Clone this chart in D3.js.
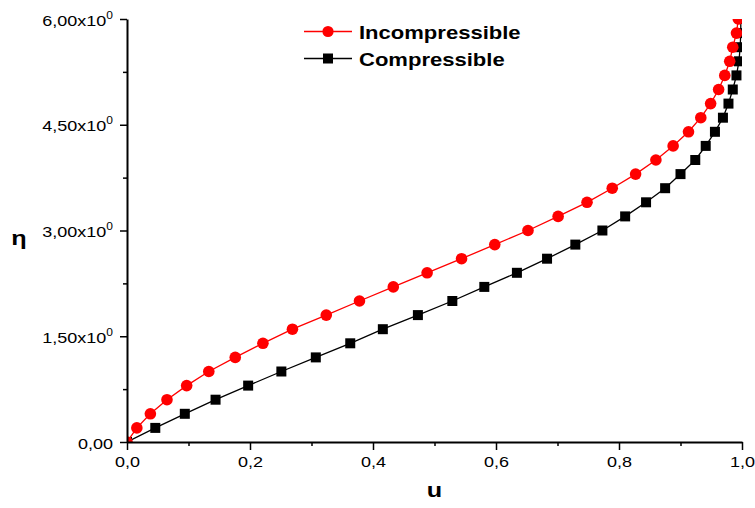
<!DOCTYPE html>
<meta charset="utf-8">
<style>
  body { margin: 0; background: #fff; }
  text { font-family: "Liberation Sans", Arial, sans-serif; }
</style>
<body>
<div id="chart"></div>
<script src="https://d3js.org/d3.v7.min.js"></script>
<script>

// eta grid (y values) shared by both curves
var eta = [0, 0.2, 0.4, 0.6, 0.8, 1.0, 1.2, 1.4, 1.6, 1.8, 2.0, 2.2, 2.4, 2.6, 2.8, 3.0,
           3.2, 3.4, 3.6, 3.8, 4.0, 4.2, 4.4, 4.6, 4.8, 5.0, 5.2, 5.4, 5.6, 5.8, 6.0];

// u values
var uIncomp = [0, 0.016, 0.038, 0.065, 0.097, 0.133, 0.176, 0.221, 0.269, 0.324, 0.378,
               0.433, 0.488, 0.544, 0.598, 0.652, 0.701, 0.748, 0.789, 0.827, 0.860,
               0.888, 0.913, 0.933, 0.949, 0.962, 0.972, 0.980, 0.985, 0.991, 0.994];
var uComp   = [0, 0.046, 0.094, 0.144, 0.197, 0.251, 0.307, 0.363, 0.416, 0.473, 0.529,
               0.581, 0.634, 0.683, 0.729, 0.773, 0.810, 0.844, 0.875, 0.900, 0.924,
               0.941, 0.956, 0.969, 0.978, 0.985, 0.991, 0.995, 0.997, 0.998, 0.998];

var seriesNames = ["Incompressible", "Compressible"];

var xTicks = [0, 0.2, 0.4, 0.6, 0.8, 1.0];
var xTickLabels = ["0,0", "0,2", "0,4", "0,6", "0,8", "1,0"];
var xMinor = [0.1, 0.3, 0.5, 0.7, 0.9];
var yTicks = [0, 1.5, 3.0, 4.5, 6.0];
var yTickLabels = ["0,00", "1,50x10", "3,00x10", "4,50x10", "6,00x10"];
var yTickSup = ["", "0", "0", "0", "0"];
var yMinor = [0.75, 2.25, 3.75, 5.25];

// the picture is a bit wider than tall, so texts are stretched
var stretch = 1.2;

var margin = {top: 19, left: 127},
    width = 615,
    height = 423;

var svg = d3.select("#chart")
  .append("svg")
    .attr("width", 755)
    .attr("height", 508);

svg.append("defs").append("clipPath")
    .attr("id", "plotclip")
  .append("rect")
    .attr("x", 0).attr("y", 0)
    .attr("width", width).attr("height", height);

var g = svg.append("g")
    .attr("transform", "translate(" + margin.left + "," + margin.top + ")");

var x = d3.scaleLinear().domain([0, 1]).range([0, width]);
var y = d3.scaleLinear().domain([0, 6]).range([height, 0]);

// lines and markers (clipped to the plot area)
var plot = g.append("g").attr("clip-path", "url(#plotclip)");

var line = d3.line()
  .x(function(d) { return x(d[0]); })
  .y(function(d) { return y(d[1]); });

var compData = uComp.map(function(u, i) { return [u, eta[i]]; });
var incData = uIncomp.map(function(u, i) { return [u, eta[i]]; });

plot.append("path")
  .datum(compData)
  .attr("fill", "none")
  .attr("stroke", "#000")
  .attr("stroke-width", 1.3)
  .attr("d", line);

plot.selectAll(".sq")
  .data(compData)
  .enter()
  .append("rect")
    .attr("x", function(d) { return x(d[0]) - 5; })
    .attr("y", function(d) { return y(d[1]) - 5; })
    .attr("width", 10)
    .attr("height", 10)
    .attr("fill", "#000");

plot.append("path")
  .datum(incData)
  .attr("fill", "none")
  .attr("stroke", "#ff0000")
  .attr("stroke-width", 1.3)
  .attr("d", line);

plot.selectAll(".dot")
  .data(incData)
  .enter()
  .append("circle")
    .attr("cx", function(d) { return x(d[0]); })
    .attr("cy", function(d) { return y(d[1]); })
    .attr("r", 5.8)
    .attr("fill", "#ff0000");

// X axis
var xAxis = g.append("g")
  .attr("transform", "translate(0," + height + ")")
  .call(d3.axisBottom(x).tickValues(xTicks).tickSize(8).tickSizeOuter(0).tickPadding(6)
        .tickFormat(function(d, i) { return xTickLabels[i]; }));
xAxis.append("g")
  .call(d3.axisBottom(x).tickValues(xMinor).tickSize(4).tickFormat(""))
  .select(".domain").remove();

// Y axis
var yAxis = g.append("g")
  .call(d3.axisLeft(y).tickValues(yTicks).tickSize(7).tickSizeOuter(0).tickPadding(5)
        .tickFormat(""));
yAxis.append("g")
  .call(d3.axisLeft(y).tickValues(yMinor).tickSize(4).tickFormat(""))
  .select(".domain").remove();

g.selectAll(".domain").attr("stroke-width", 2).attr("stroke", "#000");
g.selectAll(".tick line").attr("stroke-width", 1.5).attr("stroke", "#000");

xAxis.selectAll(".tick text")
  .attr("font-size", 15)
  .attr("fill", "#000")
  .attr("transform", "scale(" + stretch + ",1)");

// y tick labels with superscript exponent
yAxis.selectAll(".tick")
  .filter(function(d) { return yTicks.indexOf(d) >= 0; })
  .each(function(d) {
    var i = yTicks.indexOf(d);
    var t = d3.select(this).append("text")
      .attr("text-anchor", "end")
      .attr("font-size", 15)
      .attr("fill", "#000")
      .attr("transform", "translate(-14,6) scale(" + stretch + ",1)");
    t.append("tspan").text(yTickLabels[i]);
    if (yTickSup[i]) {
      t.append("tspan").attr("font-size", 10).attr("dy", -7).text(yTickSup[i]);
    }
  });

// legend
var legend = svg.append("g");
legend.append("line")
  .attr("x1", 304).attr("x2", 352).attr("y1", 31.5).attr("y2", 31.5)
  .attr("stroke", "#ff0000").attr("stroke-width", 1.5);
legend.append("circle")
  .attr("cx", 328).attr("cy", 31.5).attr("r", 5.6).attr("fill", "#ff0000");
legend.append("line")
  .attr("x1", 304).attr("x2", 352).attr("y1", 58.5).attr("y2", 58.5)
  .attr("stroke", "#000").attr("stroke-width", 1.5);
legend.append("rect")
  .attr("x", 323).attr("y", 53.5).attr("width", 10).attr("height", 10).attr("fill", "#000");
legend.selectAll(".lt")
  .data(seriesNames)
  .enter()
  .append("text")
    .attr("transform", function(d, i) { return "translate(359," + (39 + i * 26.5) + ") scale(1.16,1)"; })
    .attr("font-size", 19)
    .attr("font-weight", "bold")
    .text(function(d) { return d; });

// axis titles
svg.append("text")
  .attr("transform", "translate(" + (margin.left + width / 2) + ",497) scale(" + stretch + ",1)")
  .attr("text-anchor", "middle")
  .attr("font-size", 21)
  .attr("font-weight", "bold")
  .text("u");

svg.append("text")
  .attr("transform", "translate(19,245) scale(" + stretch + ",1)")
  .attr("text-anchor", "middle")
  .attr("font-size", 21)
  .attr("font-weight", "bold")
  .text("η");

</script>
</body>
